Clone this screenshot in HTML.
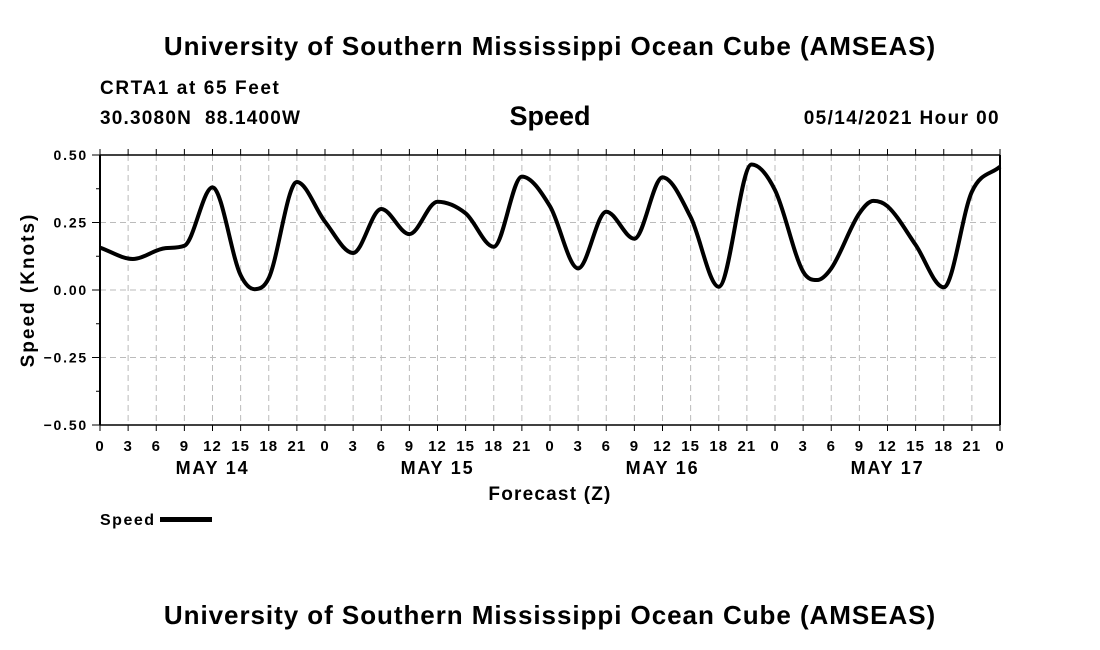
<!DOCTYPE html>
<html><head><meta charset="utf-8"><style>
html,body{margin:0;padding:0;background:#fff;}
svg{display:block;font-family:"Liberation Sans",Arial,sans-serif;font-weight:bold;}
</style></head><body>
<svg id="chart" width="1100" height="650" viewBox="0 0 1100 650" xmlns="http://www.w3.org/2000/svg">
<text x="550" y="55" text-anchor="middle" font-size="26" letter-spacing="0.95">University of Southern Mississippi Ocean Cube (AMSEAS)</text>
<text x="100" y="94" font-size="19" letter-spacing="1.6">CRTA1 at 65 Feet</text>
<text x="100" y="124" font-size="19" letter-spacing="1.2" xml:space="preserve">30.3080N  88.1400W</text>
<text x="550" y="125" text-anchor="middle" font-size="27">Speed</text>
<text x="1000" y="124" text-anchor="end" font-size="19" letter-spacing="1.4">05/14/2021 Hour 00</text>
<g id="grid"></g>
<g id="axes"></g>
<path id="line" fill="none" stroke="#000" stroke-width="4" stroke-linejoin="round"/>
<text x="550" y="500" text-anchor="middle" font-size="19" letter-spacing="1.2">Forecast (Z)</text>
<text transform="translate(34,290) rotate(-90)" text-anchor="middle" font-size="19" letter-spacing="2">Speed (Knots)</text>
<g>
<text x="100" y="525" font-size="16" letter-spacing="1.5">Speed</text>
<rect x="160" y="517" width="52" height="5" fill="#000"/>
</g>
<text x="550" y="624" text-anchor="middle" font-size="26" letter-spacing="0.95">University of Southern Mississippi Ocean Cube (AMSEAS)</text>
</svg>
<script>
const hours=[0,3.5,7,9,12,15,16.5,18,21,24,27,30,33,36,39,42,45,48,51,54,57,60,63,66,69.5,72,75,76.5,78,81,82.5,84,87,90,93,96];
const speeds=[0.157,0.115,0.155,0.164,0.38,0.055,0.003,0.044,0.40,0.253,0.137,0.30,0.207,0.327,0.284,0.16,0.42,0.31,0.08,0.29,0.19,0.417,0.27,0.012,0.465,0.37,0.068,0.037,0.08,0.284,0.33,0.31,0.167,0.01,0.364,0.457];
const yTicks=[0.5,0.25,0,-0.25,-0.5];
const yTickLabels=["0.50","0.25","0.00","\u22120.25","\u22120.50"];
const xTickLabels=["0","3","6","9","12","15","18","21","0","3","6","9","12","15","18","21","0","3","6","9","12","15","18","21","0","3","6","9","12","15","18","21","0"];
const dayLabels=["MAY 14","MAY 15","MAY 16","MAY 17"];
const L=100,R=1000,T=155,B=425;
const xS=h=>L+(h/96)*(R-L);
const yS=v=>T+(0.5-v)*(B-T);
const NS="http://www.w3.org/2000/svg";
function mk(parent,tag,attrs){const e=document.createElementNS(NS,tag);for(const k in attrs)e.setAttribute(k,attrs[k]);parent.appendChild(e);return e;}
const grid=document.getElementById('grid'),axes=document.getElementById('axes');
xTickLabels.forEach((lab,i)=>{
  const x=xS(i*3);
  if(i>0&&i<32){const g=mk(grid,'line',{x1:x,x2:x,y1:T,y2:B,stroke:'#bbb','stroke-width':1,'stroke-dasharray':'6,4'});
  
  }
  const t1=mk(axes,'line',{x1:x,x2:x,y1:B,y2:B+6,stroke:'#000','stroke-width':1});
  
  
  const t2=mk(axes,'line',{x1:x,x2:x,y1:T,y2:T-6,stroke:'#000','stroke-width':1});
  
  
  const tx=mk(axes,'text',{x:x,y:B+26,'text-anchor':'middle','font-size':15,'letter-spacing':1});
  tx.textContent=lab;
  
  
});
dayLabels.forEach((d,i)=>{
  const t=mk(axes,'text',{x:xS(12+24*i),y:B+49,'text-anchor':'middle','font-size':18,'letter-spacing':1.8});
  t.textContent=d;
  
  
});
yTicks.forEach((v,i)=>{
  const y=yS(v);
  if(i>0&&i<yTicks.length-1){const g=mk(grid,'line',{x1:L,x2:R,y1:y,y2:y,stroke:'#bbb','stroke-width':1,'stroke-dasharray':'6,4'});
  
  }
  const t=mk(axes,'line',{x1:L-8,x2:L,y1:y,y2:y,stroke:'#000','stroke-width':1});
  
  
  const tx=mk(axes,'text',{x:L-12,y:y+5,'text-anchor':'end','font-size':14,'letter-spacing':1.8});
  tx.textContent=yTickLabels[i];
  
  
  if(i<yTicks.length-1){const ym=yS(v-0.125);
    const m=mk(axes,'line',{x1:L-4,x2:L,y1:ym,y2:ym,stroke:'#000','stroke-width':1});
    
    }
});
mk(axes,'line',{x1:L,x2:R,y1:T,y2:T,stroke:'#000','stroke-width':1.5});
mk(axes,'line',{x1:L,x2:R,y1:B,y2:B,stroke:'#000','stroke-width':1.5});
mk(axes,'line',{x1:L,x2:L,y1:T,y2:B,stroke:'#000','stroke-width':2});
mk(axes,'line',{x1:R,x2:R,y1:T,y2:B,stroke:'#000','stroke-width':2});
// monotone cubic (Fritsch-Carlson) in data space
const n=hours.length, dl=[], m=[];
for(let i=0;i<n-1;i++) dl.push((speeds[i+1]-speeds[i])/(hours[i+1]-hours[i]));
m[0]=dl[0]; m[n-1]=dl[n-2];
for(let i=1;i<n-1;i++){ m[i]=(dl[i-1]*dl[i]<=0)?0:(dl[i-1]+dl[i])/2; }
for(let i=0;i<n-1;i++){
  if(dl[i]===0){m[i]=0;m[i+1]=0;continue;}
  const a=m[i]/dl[i], b=m[i+1]/dl[i], s=a*a+b*b;
  if(s>9){const t=3/Math.sqrt(s);m[i]=t*a*dl[i];m[i+1]=t*b*dl[i];}
}
let d='M'+xS(hours[0])+','+yS(speeds[0]);
for(let i=0;i<n-1;i++){
  const h=hours[i+1]-hours[i];
  d+=' C'+xS(hours[i]+h/3)+','+yS(speeds[i]+m[i]*h/3)+' '+xS(hours[i+1]-h/3)+','+yS(speeds[i+1]-m[i+1]*h/3)+' '+xS(hours[i+1])+','+yS(speeds[i+1]);
}
document.getElementById('line').setAttribute('d',d);
</script>
</body></html>
